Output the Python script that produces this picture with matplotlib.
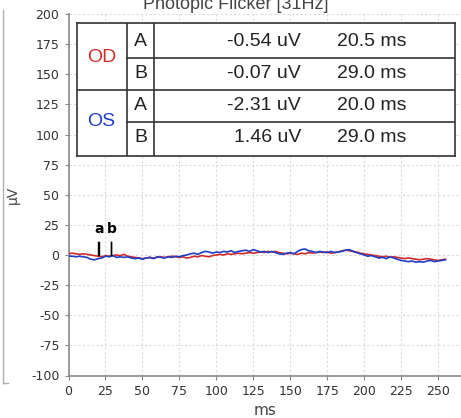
import matplotlib
matplotlib.use("Agg")
import matplotlib.pyplot as plt
from matplotlib.lines import Line2D
import numpy as np

plt.rcParams["axes.unicode_minus"] = False

# sample step of the traces, ms
step_ms = 2.5

# OS (left eye) trace, uV, every 2.5 ms from 0 ms
os_uv = [-1, -1, -1.5, -1, -1.5, -2, -3.5, -4, -3, -2.5,
         -1, -1.5, -0.5, -2, -1.5, -2, -1.5, -2.5, -3, -2.5,
         -3.5, -2.5, -2, -3, -1.5, -2, -2.5, -1.5, -2, -1,
         -1.5, -0.5, 0, 1, 1.5, 0.5, 2, 3, 2.5, 1.5,
         2.5, 2, 3, 2.5, 3.5, 2, 3, 3.5, 4, 3,
         4.5, 3.5, 2.5, 3, 2, 3, 2, 1, 0.5, 1.5,
         2, 1, 3, 4.5, 5, 3.5, 3, 2, 3, 2.5,
         2, 3, 2, 2.5, 3, 4, 4.5, 3, 2, 1,
         0, -1, -0.5, -1.5, -2.5, -2, -3, -1.5, -2.5, -3.5,
         -4.5, -5, -5.5, -5, -6, -5.5, -6, -5, -4.5, -5.5,
         -5, -4.5, -4]

# OD (right eye) trace, uV
od_uv = [1, 1.5, 1, 0.5, 1, 0.5, 0, -0.5, -1, -1.5,
         -0.5, -1, -0.5, 0, -0.5, 0.5, -1, -1.5, -2, -2.5,
         -3, -2.5, -2, -2.5, -2, -1.5, -2, -1.5, -1, -1.5,
         -2, -1.5, -2.5, -2, -1, -1.5, -0.5, -1, -1.5, -0.5,
         0, 0.5, 0, 1, 0.5, 1, 1.5, 1, 1.5, 2,
         1.5, 2, 2.5, 2, 3, 2.5, 3, 2, 1.5, 1,
         1.5, 1, 0.5, 1.5, 1, 2, 1.5, 2, 2.5, 2,
         2.5, 1.5, 2, 2.5, 3.5, 4, 3.5, 3, 2.5, 1.5,
         1, 0.5, 0, -0.5, -1, -1.5, -1, -2, -1.5, -2,
         -2.5, -3, -2.5, -3, -3.5, -4, -3.5, -3, -3.5, -4,
         -4.5, -4, -3.5]

# marker table
eyes = ["OD", "OS"]
eye_colors = ["#d42a2a", "#1f3fc8"]
marker_names = ["A", "B"]
amp_uv = [[-0.54, -0.07], [-2.31, 1.46]]
lat_ms = [[20.5, 29.0], [20.0, 29.0]]

xticks = np.arange(0, 251, 25)
yticks = np.arange(-100, 201, 25)

W, H = 461, 418
fig = plt.figure(figsize=(W / 100, H / 100), dpi=100)
ax = fig.add_axes([68.5 / W, 1 - 375.5 / H, 1 - 68.5 / W, (375.5 - 14) / H])

ax.plot(np.arange(len(od_uv)) * step_ms, od_uv, color=eye_colors[0], lw=1.2, zorder=3)
ax.plot(np.arange(len(os_uv)) * step_ms, os_uv, color=eye_colors[1], lw=1.2, zorder=3)

# a / b latency markers
for i in range(2):
    for j in range(2):
        ax.plot([lat_ms[i][j]] * 2, [0, 11], color="black", lw=1.0, zorder=4)
ax.text(lat_ms[0][0], 16, "a", ha="center", va="bottom", fontsize=10, fontweight="bold")
ax.text(lat_ms[0][1] + 0.5, 16, "b", ha="center", va="bottom", fontsize=10, fontweight="bold")

ax.set_xlim(0, (W - 68.5) / 1.478)
ax.set_ylim(-100, 200)
ax.set_xticks(xticks)
ax.set_yticks(yticks)
ax.grid(True, color="#dadada", ls=(0, (2, 2)), lw=0.8)
for s in ["right", "top"]:
    ax.spines[s].set_visible(False)
for s in ["left", "bottom"]:
    ax.spines[s].set_color("#8a8a8a")
    ax.spines[s].set_linewidth(1.2)
ax.tick_params(colors="#8a8a8a", labelcolor="#333333", labelsize=9, length=3)
ax.set_xlabel("ms", fontsize=11, color="#444444", labelpad=4)
ax.set_ylabel("µV", fontsize=10, color="#444444")
ax.yaxis.set_label_coords(-(68.5 - 20) / (W - 68.5), 0.5)

# title, partly cut at the top edge as in the source
fig.text(236 / W, 1 - 9 / H, "Photopic Flicker [31Hz]", ha="center", va="baseline",
         fontsize=13, color="#444444", family="Liberation Sans")

# border of the neighbouring panel on the left
fig.add_artist(Line2D([3 / W, 3 / W], [1 - 10 / H, 1 - 383 / H], color="#b0b0b0", lw=1))
fig.add_artist(Line2D([3 / W, 8 / W], [1 - 383 / H, 1 - 383 / H], color="#b0b0b0", lw=1))

# value table as an inset box
tx0, ty0, tx1, ty1 = 77, 23, 455, 156
tab = fig.add_axes([tx0 / W, 1 - ty1 / H, (tx1 - tx0) / W, (ty1 - ty0) / H])
tab.set_xlim(0, tx1 - tx0)
tab.set_ylim(ty1 - ty0, 0)
tab.set_xticks([])
tab.set_yticks([])
for s in tab.spines.values():
    s.set_color("#333333")
    s.set_linewidth(1.2)
tab.axvline(50, color="#333333", lw=1.2)
tab.axvline(77, color="#333333", lw=1.2)
tab.plot([0, tx1 - tx0], [67, 67], color="#333333", lw=1.2)
tab.plot([50, tx1 - tx0], [35, 35], color="#333333", lw=1.2)
tab.plot([50, tx1 - tx0], [99, 99], color="#333333", lw=1.2)

font = dict(family="Liberation Sans", fontsize=14, va="center", color="#222222")
row_h = 32
for i, eye in enumerate(eyes):
    tab.text(24.5, 35 + i * 64, eye, ha="center", **{**font, "color": eye_colors[i]})
    for j, name in enumerate(marker_names):
        yc = 19 + (2 * i + j) * row_h
        tab.text(63.5, yc, name, ha="center", **font)
        tab.text(224, yc, f"{amp_uv[i][j]:.2f} uV", ha="right", **font)
        tab.text(260, yc, f"{lat_ms[i][j]:.1f} ms", ha="left", **font)

fig.savefig("out.png", dpi=100)
